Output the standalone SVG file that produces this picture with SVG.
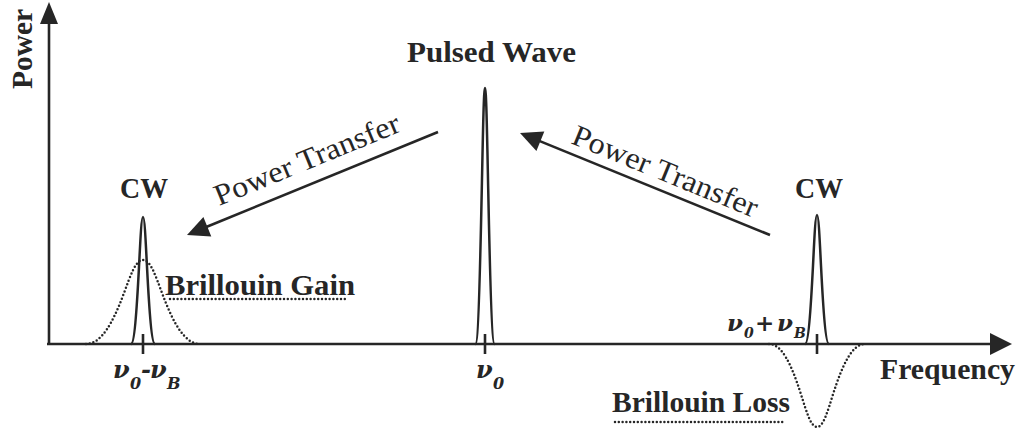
<svg xmlns="http://www.w3.org/2000/svg" width="1020" height="431" viewBox="0 0 1020 431">
<style>
.ax{stroke:#262626;stroke-width:2.6;fill:none}
.pk{stroke:#262626;stroke-width:2.5;fill:none;stroke-linejoin:round}
.dot{stroke:#262626;stroke-width:2.5;fill:none;stroke-dasharray:0 3.8;stroke-linecap:round}
.ah{fill:#262626}
.lb{font-family:"Liberation Serif",serif;font-weight:bold;font-size:30px;fill:#262626}
.pt{font-family:"Liberation Serif",serif;font-size:30px;fill:#262626}
.nu{font-family:"DejaVu Serif",serif;font-style:italic;font-weight:bold;fill:#262626}
</style>
<rect width="1020" height="431" fill="#ffffff"/>
<g id="axes">
<line class="ax" x1="49" y1="345" x2="49" y2="20"/>
<polygon class="ah" points="49,2 40,24 58,24"/>
<line class="ax" x1="47" y1="344" x2="995" y2="344"/>
<polygon class="ah" points="1012,344 990,333 990,355"/>
<text class="lb" transform="translate(32,49) rotate(-90)" text-anchor="middle" font-size="32" textLength="80" lengthAdjust="spacingAndGlyphs">Power</text>
<text class="lb" x="880" y="379" textLength="135" lengthAdjust="spacingAndGlyphs">Frequency</text>
</g>
<g id="cw-left">
<path class="pk" d="M131,344 C134.2,344 136.6,313.1 139,266.9 C140.3,241.5 141.4,217 143,217 C144.6,217 145.7,241.5 147,266.9 C149.4,313.1 151.8,344 155,344"/>
<line class="ax" x1="143" y1="334" x2="143" y2="354"/>
<text class="lb" x="120" y="198" textLength="48" lengthAdjust="spacingAndGlyphs">CW</text>
<text class="nu" y="378"><tspan x="113" font-size="24">ν</tspan><tspan x="130" y="389" font-size="16">0</tspan><tspan x="141" y="378" font-size="24">-</tspan><tspan x="150" font-size="24">ν</tspan><tspan x="167" y="389" font-size="16">B</tspan></text>
</g>
<g id="brillouin-gain">
<path class="dot" d="M86,344 C101.2,344 112.6,323.6 124,293 C130.3,276.2 135.4,260 143,260 C150.6,260 155.7,276.2 162,293 C173.4,323.6 184.8,344 200,344"/>
<text class="lb" x="165" y="295" textLength="190" lengthAdjust="spacingAndGlyphs">Brillouin Gain</text>
<line class="dot" x1="170" y1="299" x2="347" y2="299"/>
</g>
<g id="pulsed-wave">
<path class="pk" d="M475.4,344 C477.96,344 479.88,281.8 481.8,188.6 C482.86,137.4 483.72,88 485,88 C486.28,88 487.14,137.4 488.2,188.6 C490.12,281.8 492.04,344 494.6,344"/>
<line class="ax" x1="485" y1="334" x2="485" y2="354"/>
<text class="lb" x="407" y="62" textLength="169" lengthAdjust="spacingAndGlyphs">Pulsed Wave</text>
<text class="nu" y="378"><tspan x="476" font-size="24">ν</tspan><tspan x="493" y="389" font-size="16">0</tspan></text>
</g>
<g id="cw-right">
<path class="pk" d="M805,344 C808.2,344 810.6,312.7 813,265.7 C814.3,239.9 815.4,215 817,215 C818.6,215 819.7,239.9 821,265.7 C823.4,312.7 825.8,344 829,344"/>
<line class="ax" x1="817" y1="334" x2="817" y2="354"/>
<text class="lb" x="795" y="198" textLength="48" lengthAdjust="spacingAndGlyphs">CW</text>
<text class="nu" y="331"><tspan x="727" font-size="23">ν</tspan><tspan x="744" y="338" font-size="14">0</tspan><tspan x="755" y="331" font-size="23" font-style="normal">+</tspan><tspan x="777" font-size="23">ν</tspan><tspan x="794" y="338" font-size="14">B</tspan></text>
</g>
<g id="brillouin-loss">
<path class="dot" d="M769,344 C781.8,344 791.4,364.2 801,394.4 C806.3,411 810.6,427 817,427 C823.4,427 827.7,411 833,394.4 C842.6,364.2 852.2,344 865,344"/>
<text class="lb" x="612" y="412" textLength="178" lengthAdjust="spacingAndGlyphs">Brillouin Loss</text>
<line class="dot" x1="615" y1="422" x2="785" y2="422"/>
</g>
<g id="connectors">
<line class="ax" x1="438" y1="132" x2="205" y2="227.5" stroke-width="3"/>
<polygon class="ah" points="187,235 211.3,236.4 203.4,216.9"/>
<text class="pt" transform="translate(219,206) rotate(-22.3)" textLength="198" lengthAdjust="spacingAndGlyphs">Power Transfer</text>
<line class="ax" x1="770" y1="235" x2="538" y2="140.4" stroke-width="3"/>
<polygon class="ah" points="520,133 544.3,131.6 536.4,151.0"/>
<text class="pt" transform="translate(570,143) rotate(22.2)" textLength="198" lengthAdjust="spacingAndGlyphs">Power Transfer</text>
</g>
</svg>
